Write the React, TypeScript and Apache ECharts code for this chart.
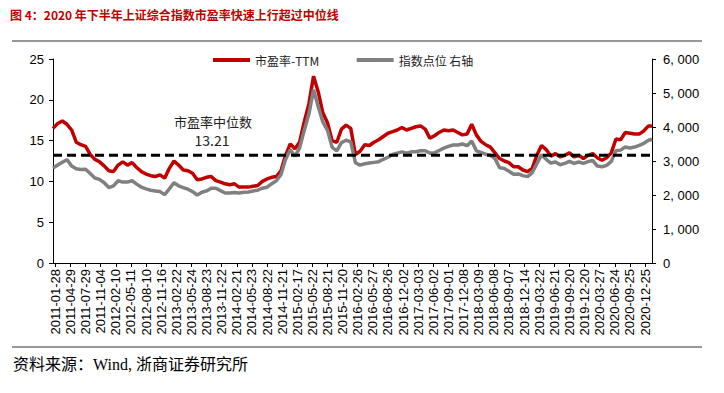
import React, { useEffect, useRef } from "react";
import * as echarts from "echarts";

const TITLE = "图 4：2020 年下半年上证综合指数市盈率快速上行超过中位线";
const SOURCE = "资料来源：Wind, 浙商证券研究所";
const PE_NAME = "市盈率-TTM";
const INDEX_NAME = "指数点位 右轴";
const MEDIAN_LABEL = "市盈率中位数";
const MEDIAN_PE = 13.21;

// weekly category axis
const N_WEEKS = 516;
const LABEL_OFFSET = 2;
const LABEL_EVERY = 13;
const STEP = 4; // sample spacing (weeks)

const tickLabels = [
  "2011-01-28", "2011-04-29", "2011-07-29", "2011-11-04", "2012-02-10",
  "2012-05-11", "2012-08-10", "2012-11-16", "2013-02-22", "2013-05-24",
  "2013-08-23", "2013-11-22", "2014-02-21", "2014-05-23", "2014-08-22",
  "2014-11-21", "2015-02-17", "2015-05-22", "2015-08-21", "2015-11-20",
  "2016-02-26", "2016-05-27", "2016-08-26", "2016-12-02", "2017-03-03",
  "2017-06-02", "2017-09-01", "2017-12-08", "2018-03-09", "2018-06-08",
  "2018-09-07", "2018-12-14", "2019-03-22", "2019-06-21", "2019-09-20",
  "2019-12-20", "2020-03-27", "2020-06-24", "2020-09-25", "2020-12-25",
];

const peValues = [
  16.5, 17.1, 17.4, 17.0, 16.3, 14.8, 14.5, 14.3, 13.3, 12.7,
  12.4, 11.9, 11.3, 11.2, 12.0, 12.4, 12.0, 12.3, 11.7, 11.2,
  10.9, 10.7, 10.6, 10.8, 10.4, 11.6, 12.5, 12.0, 11.4, 11.3,
  11.0, 10.2, 10.3, 10.5, 10.6, 10.1, 9.9, 9.7, 9.6, 9.7,
  9.3, 9.3, 9.3, 9.4, 9.5, 10.0, 10.3, 10.5, 10.6, 11.3,
  13.2, 14.6, 14.0, 14.8, 17.3, 19.5, 22.9, 21.0, 18.4, 17.2,
  15.0, 14.8, 16.4, 16.9, 16.5, 13.3, 13.7, 14.5, 14.4, 14.8,
  15.1, 15.5, 15.9, 16.1, 16.3, 16.6, 16.3, 16.5, 16.7, 16.8,
  16.4, 15.3, 15.6, 16.0, 16.3, 16.2, 16.3, 16.0, 15.7, 15.8,
  17.0, 15.7, 14.9, 14.5, 14.2, 13.5, 12.8, 12.5, 12.3, 11.8,
  11.8, 11.4, 11.2, 11.6, 13.2, 14.4, 13.9, 13.1, 13.4, 13.0,
  13.2, 13.5, 13.0, 13.2, 12.8, 13.2, 13.4, 12.9, 12.6, 12.9,
  13.5, 15.2, 15.1, 16.0, 15.9, 15.8, 15.8, 16.2, 16.8,
  16.8,
];

const indexValues = [
  2790, 2880, 2960, 3040, 2850, 2770, 2750, 2760, 2630, 2500,
  2460, 2360, 2220, 2270, 2420, 2380, 2380, 2420, 2320, 2230,
  2180, 2140, 2120, 2100, 2010, 2180, 2360, 2270, 2220, 2170,
  2100, 2000, 2080, 2120, 2200, 2200, 2130, 2060, 2060, 2070,
  2060, 2080, 2090, 2120, 2140, 2200, 2230, 2330, 2420, 2600,
  3050, 3330, 3140, 3380, 3900, 4380, 5100, 4600, 4150, 3900,
  3400, 3300, 3540, 3610, 3560, 2950, 2880, 2920, 2940, 2960,
  2980, 3050, 3110, 3190, 3230, 3270, 3230, 3270, 3270, 3300,
  3300, 3230, 3240, 3310, 3380, 3430, 3470, 3470, 3500, 3450,
  3590, 3300, 3250, 3200, 3170, 3070, 2800, 2780, 2700, 2610,
  2620, 2570, 2540, 2660, 2920, 3180, 3050, 2940, 2970, 2890,
  2930, 2990, 2930, 2970, 2930, 2980, 3020, 2850, 2830, 2870,
  2990, 3300, 3320, 3410, 3380, 3410, 3460, 3520, 3610,
  3640,
];

const isLabelIndex = (i: number) =>
  i >= LABEL_OFFSET && (i - LABEL_OFFSET) % LABEL_EVERY === 0 &&
  (i - LABEL_OFFSET) / LABEL_EVERY < tickLabels.length;

const categories = Array.from({ length: N_WEEKS }, (_, i) =>
  isLabelIndex(i) ? tickLabels[(i - LABEL_OFFSET) / LABEL_EVERY] : ""
);

const toPairs = (vals: number[]) =>
  vals.map((v, k) => [k === vals.length - 1 ? N_WEEKS - 1 : k * STEP, v]);

const fmtThousands = (v: number) => {
  if (v < 1000) return String(v);
  const th = Math.floor(v / 1000);
  const rest = String(v % 1000).padStart(3, "0");
  return `${th}, ${rest}`;
};

const SANS = '"Liberation Sans", Arial, sans-serif';
const CJK = '"Noto Sans CJK SC", sans-serif';

export default function App() {
  const ref = useRef<HTMLDivElement>(null);
  useEffect(() => {
    if (!ref.current) return;
    const chart = echarts.init(ref.current, undefined, { renderer: "svg" });
    chart.setOption({
      animation: false,
      backgroundColor: "#fff",
      grid: { left: 53, right: 72, top: 59, bottom: 130, containLabel: false },
      legend: {
        left: 208,
        top: 49,
        icon: "rect",
        itemWidth: 37,
        itemHeight: 4,
        itemGap: 38,
        data: [PE_NAME, INDEX_NAME],
        textStyle: { fontSize: 12, fontFamily: CJK, color: "#222" },
      },
      xAxis: {
        type: "category",
        data: categories,
        boundaryGap: false,
        axisLine: { lineStyle: { color: "#000", width: 1 } },
        axisTick: { interval: (i: number) => isLabelIndex(i), length: 4, lineStyle: { color: "#000" } },
        axisLabel: {
          interval: (i: number) => isLabelIndex(i),
          rotate: 90,
          margin: 6,
          fontSize: 13,
          fontFamily: SANS,
          color: "#000",
        },
        splitLine: { show: false },
      },
      yAxis: [
        {
          type: "value",
          min: 0,
          max: 25,
          interval: 5,
          position: "left",
          axisLine: { show: true, lineStyle: { color: "#000" } },
          axisTick: { show: true, length: 4, lineStyle: { color: "#000" } },
          axisLabel: { margin: 9, fontSize: 13, fontFamily: SANS, color: "#000" },
          splitLine: { show: false },
        },
        {
          type: "value",
          min: 0,
          max: 6000,
          interval: 1000,
          position: "right",
          axisLine: { show: true, lineStyle: { color: "#000" } },
          axisTick: { show: true, length: 4, lineStyle: { color: "#000" } },
          axisLabel: { margin: 11, fontSize: 13, fontFamily: SANS, color: "#000", formatter: fmtThousands },
          splitLine: { show: false },
        },
      ],
      series: [
        {
          name: PE_NAME,
          type: "line",
          yAxisIndex: 0,
          data: toPairs(peValues),
          showSymbol: false,
          symbol: "none",
          lineStyle: { color: "#c00000", width: 3.5 },
          itemStyle: { color: "#c00000" },
          z: 2,
        },
        {
          name: INDEX_NAME,
          type: "line",
          yAxisIndex: 1,
          data: toPairs(indexValues),
          showSymbol: false,
          symbol: "none",
          lineStyle: { color: "#808080", width: 3.5 },
          itemStyle: { color: "#808080" },
          z: 3,
        },
        {
          name: "median",
          type: "line",
          yAxisIndex: 0,
          data: [[0, MEDIAN_PE], [N_WEEKS - 1, MEDIAN_PE]],
          showSymbol: false,
          symbol: "none",
          silent: true,
          lineStyle: { color: "#000", width: 3, type: [9, 5] },
          z: 4,
        },
      ],
      graphic: [
        {
          type: "text",
          x: 10,
          y: 14,
          style: { text: TITLE, font: `bold 12px ${CJK}`, fill: "#c00000", align: "left", verticalAlign: "middle" },
        },
        { type: "line", shape: { x1: 12, y1: 41, x2: 702, y2: 41 }, style: { stroke: "#333", lineWidth: 1 } },
        { type: "line", shape: { x1: 12, y1: 347, x2: 702, y2: 347 }, style: { stroke: "#333", lineWidth: 1 } },
        {
          type: "text",
          x: 13,
          y: 364,
          style: { text: SOURCE, font: `16px "Liberation Serif", ${CJK}`, fill: "#000", align: "left", verticalAlign: "middle" },
        },
        {
          type: "text",
          x: 213,
          y: 121,
          style: { text: MEDIAN_LABEL, font: `13px ${CJK}`, fill: "#222", align: "center", verticalAlign: "middle" },
        },
        {
          type: "text",
          x: 212,
          y: 140,
          style: { text: MEDIAN_PE.toFixed(2), font: `14px ${CJK}`, fill: "#222", align: "center", verticalAlign: "middle" },
        },
      ],
    });
    return () => chart.dispose();
  }, []);
  return (
    <div
      ref={ref}
      style={{ position: "fixed", left: 0, top: 0, width: 724, height: 393, background: "#fff" }}
    />
  );
}
